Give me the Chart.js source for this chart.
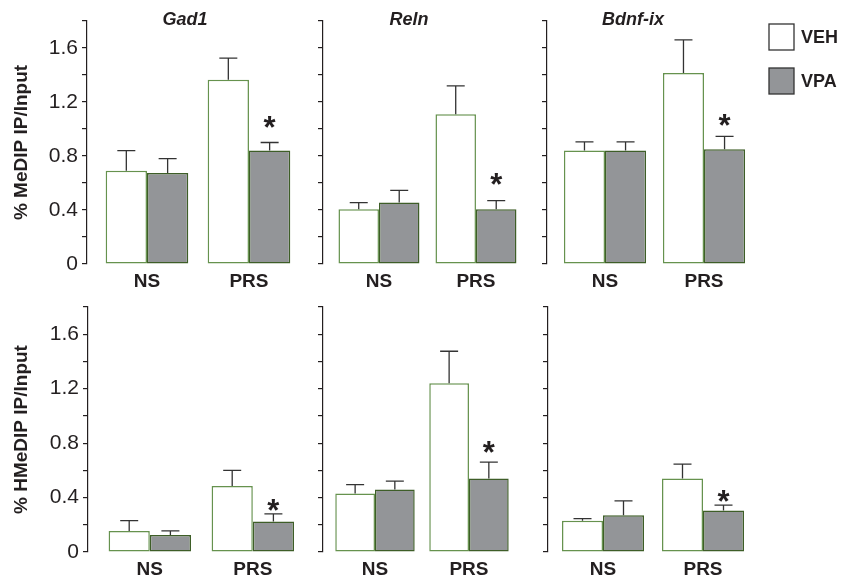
<!DOCTYPE html>
<html>
<head>
<meta charset="utf-8">
<script src="https://cdn.jsdelivr.net/npm/chart.js@4.4.1/dist/chart.umd.min.js"></script>
<style>
  body { margin: 0; background: #fff; }
  #wrap { position: relative; width: 842px; height: 581px; overflow: hidden; }
  #wrap canvas { position: absolute; }
</style>
</head>
<body>
<div id="wrap"></div>
<script>
// categories / series / labels
const categories = ['NS', 'PRS'];
const series = ['VEH', 'VPA'];
const genes = ['Gad1', 'Reln', 'Bdnf-ix'];
const rowTitles = ['% MeDIP IP/Input', '% HMeDIP IP/Input'];
const yTickLabels = [0, 0.4, 0.8, 1.2, 1.6];

// values per gene (Gad1, Reln, Bdnf-ix), each [NS, PRS]
const medipVEH = [[0.69, 1.365], [0.405, 1.11], [0.84, 1.415]];
const medipVEHsem = [[0.15, 0.16], [0.05, 0.21], [0.065, 0.245]];
const medipVPA = [[0.675, 0.84], [0.455, 0.405], [0.84, 0.85]];
const medipVPAsem = [[0.105, 0.06], [0.09, 0.065], [0.065, 0.095]];

const hmedipVEH = [[0.155, 0.485], [0.43, 1.24], [0.23, 0.54]];
const hmedipVEHsem = [[0.075, 0.115], [0.065, 0.235], [0.015, 0.105]];
const hmedipVPA = [[0.125, 0.225], [0.46, 0.54], [0.27, 0.305]];
const hmedipVPAsem = [[0.03, 0.055], [0.06, 0.12], [0.105, 0.04]];

// height of the * above PRS/VPA
const medipStar = [1.067, 0.644, 1.08];
const hmedipStar = [0.36, 0.787, 0.426];

const ink = '#231f20';
const family = '"Liberation Sans", Arial, Helvetica, sans-serif';
const fills = ['#ffffff', '#939598'];
const borders = ['#66924e', '#3e5e28'];

// panel geometry (page pixels)
const rows = [
  { vals: [medipVEH, medipVPA], sems: [medipVEHsem, medipVPAsem], star: medipStar,
    top: 21, bottom: 264, axisX: [87, 323, 547], step: [102, 97, 99],
    xmin: [-0.588, -0.577, -0.586], pct: [0.81, 0.835, 0.83], titleDx: [98, 86, 86] },
  { vals: [hmedipVEH, hmedipVPA], sems: [hmedipVEHsem, hmedipVPAsem], star: hmedipStar,
    top: 307, bottom: 552, axisX: [88, 323, 548], step: [103, 94, 100],
    xmin: [-0.6, -0.553, -0.55], pct: [0.80, 0.845, 0.82], titleDx: [0, 0, 0] }
];
const xmax = 1.55;
const padTop = 20;
const xAxisH = 30;

const errorBars = {
  id: 'errorBars',
  afterDatasetsDraw(chart) {
    const ctx = chart.ctx, y = chart.scales.y;
    ctx.save();
    ctx.strokeStyle = '#333';
    ctx.lineWidth = 1.3;
    chart.data.datasets.forEach((ds, k) => {
      chart.getDatasetMeta(k).data.forEach((bar, i) => {
        const top = y.getPixelForValue(ds.data[i].y + ds.sem[i]);
        ctx.beginPath();
        ctx.moveTo(bar.x, bar.y);
        ctx.lineTo(bar.x, top);
        ctx.moveTo(bar.x - 9, top);
        ctx.lineTo(bar.x + 9, top);
        ctx.stroke();
      });
    });
    ctx.restore();
  }
};

const panelText = {
  id: 'panelText',
  afterDraw(chart, args, o) {
    const ctx = chart.ctx, a = chart.chartArea;
    ctx.save();
    ctx.fillStyle = ink;
    ctx.textAlign = 'center';
    if (o.title) {
      ctx.font = 'italic bold 18px ' + family;
      ctx.textBaseline = 'middle';
      ctx.fillText(o.title, a.left + o.titleDx, a.top - 1);
    }
    // significance mark
    const bar = chart.getDatasetMeta(1).data[1];
    ctx.font = 'bold 31px ' + family;
    ctx.textBaseline = 'alphabetic';
    ctx.fillText('*', bar.x, chart.scales.y.getPixelForValue(o.star) + 18);
    if (o.legend) {
      const ox = chart.canvas.offsetLeft, oy = chart.canvas.offsetTop;
      series.forEach((s, k) => {
        const bx = 769 - ox, by = 24 + k * 44 - oy;
        ctx.fillStyle = fills[k];
        ctx.fillRect(bx, by, 25, 26);
        ctx.strokeStyle = '#333';
        ctx.lineWidth = 1.3;
        ctx.strokeRect(bx, by, 25, 26);
        ctx.fillStyle = ink;
        ctx.textAlign = 'left';
        ctx.textBaseline = 'middle';
        ctx.font = 'bold 18px ' + family;
        ctx.fillText(s, bx + 32, by + 14);
      });
    }
    ctx.restore();
  }
};

const wrap = document.getElementById('wrap');

rows.forEach((row, r) => {
  genes.forEach((gene, c) => {
    const W = c === 0 ? row.axisX[c] : 10;
    const left = row.axisX[c] - W;
    const areaW = row.step[c] * (xmax - row.xmin[c]);
    let width = Math.ceil(W + areaW) + 2;
    if (r === 0 && c === 2) width = 842 - left;
    const padRight = width - W - areaW;
    const height = padTop + (row.bottom - row.top) + xAxisH;

    const cv = document.createElement('canvas');
    cv.width = width;
    cv.height = height;
    cv.style.left = left + 'px';
    cv.style.top = (row.top - padTop) + 'px';
    cv.style.width = width + 'px';
    cv.style.height = height + 'px';
    wrap.appendChild(cv);

    new Chart(cv, {
      type: 'bar',
      data: {
        datasets: series.map((s, k) => ({
          label: s,
          data: categories.map((cat, i) => ({ x: i, y: row.vals[k][c][i] })),
          sem: row.sems[k][c],
          backgroundColor: fills[k],
          borderColor: borders[k],
          borderWidth: 1.5,
          borderSkipped: false,
          categoryPercentage: row.pct[c],
          barPercentage: 1
        }))
      },
      options: {
        responsive: false,
        animation: false,
        devicePixelRatio: 1,
        layout: { padding: { top: padTop, right: padRight, left: 0, bottom: 0 } },
        plugins: {
          legend: { display: false },
          tooltip: { enabled: false },
          panelText: {
            title: r === 0 ? gene : '',
            titleDx: row.titleDx[c],
            star: row.star[c],
            legend: r === 0 && c === 2
          }
        },
        scales: {
          x: {
            type: 'linear',
            offset: false,
            bounds: 'data',
            min: row.xmin[c],
            max: xmax,
            afterBuildTicks: s => { s.ticks = categories.map((cat, i) => ({ value: i })); },
            afterFit: s => { s.height = xAxisH; },
            grid: { display: false, drawTicks: false },
            border: { display: false },
            ticks: {
              callback: (v, i) => categories[i],
              padding: 6,
              color: ink,
              autoSkip: false,
              maxRotation: 0,
              font: { family: family, size: 19, weight: 'bold' }
            }
          },
          y: {
            min: 0,
            max: 1.8,
            afterFit: s => { s.width = W; },
            ticks: {
              stepSize: 0.2,
              display: c === 0,
              autoSkip: false,
              padding: 4,
              color: ink,
              font: { family: family, size: 21 },
              callback: v => {
                const t = Math.round(v * 10) / 10;
                return yTickLabels.includes(t) ? String(t) : '';
              }
            },
            grid: { drawOnChartArea: false, drawTicks: true, tickLength: 5, color: ink, lineWidth: 1.2 },
            border: { display: true, color: ink, width: 1.2 },
            title: {
              display: c === 0,
              text: rowTitles[r],
              color: ink,
              font: { family: family, size: 19, weight: 'bold' },
              padding: { top: 10, bottom: 0 }
            }
          }
        }
      },
      plugins: [errorBars, panelText]
    });
  });
});
</script>
</body>
</html>
